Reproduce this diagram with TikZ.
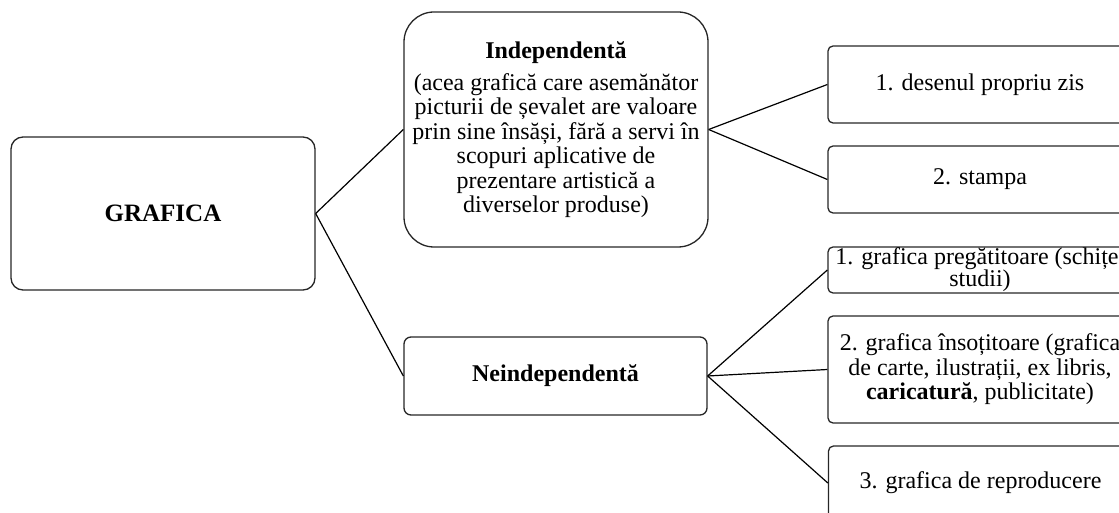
\documentclass[tikz,border=0pt]{standalone}
\usepackage{fontspec}
\setmainfont{Liberation Serif}
\begin{document}
\lineskiplimit=-20pt\relax
\begin{tikzpicture}[x=0.5pt,y=-0.5pt,
  box/.style={draw=black!85, line width=0.65pt, align=center, inner sep=0pt,
    font=\fontsize{12}{12.3}\selectfont},
  tight/.style={font=\fontsize{12}{11}\selectfont},
  conn/.style={draw=black, line width=0.6pt}]
\useasboundingbox (0,0) rectangle (1119,513);
\clip (0,0) rectangle (1119,513);
% left
\node[box, rounded corners=6pt, minimum width=152pt, minimum height=76.5pt] (g) at (163,213.5)
  {\fontsize{12.5}{15}\selectfont\bfseries GRAFICA};
% middle
\node[box, rounded corners=15pt, minimum width=152pt, minimum height=117.5pt,
  font=\fontsize{12}{12.25}\selectfont] (ind) at (556,129.5)
  {\textbf{Independentă}\\[3.75pt]
   (acea grafică care asemănător\\
   picturii de șevalet are valoare\\
   prin sine însăși, fără a servi în\\
   scopuri aplicative de\\
   prezentare artistică a\\
   diverselor produse)};
\node[box, rounded corners=3.5pt, minimum width=151.5pt, minimum height=39pt] (nei) at (555.5,376)
  {\textbf{Neindependentă}};
% right
\node[box, rounded corners=2.5pt, minimum width=152pt, minimum height=38.5pt] (b1) at (980,84.5)
  {1. desenul propriu zis};
\node[box, rounded corners=2.5pt, minimum width=152pt, minimum height=33.5pt] (b2) at (980,179.5)
  {2. stampa};
\node[box, tight, rounded corners=2.5pt, minimum width=152pt, minimum height=23pt] (b3) at (980,270)
  {1. grafica pregătitoare (schițe,\\studii)};
\node[box, rounded corners=2.5pt, minimum width=152pt, minimum height=53.5pt] (b4) at (980,369.5)
  {2. grafica însoțitoare (grafica\\de carte, ilustrații, ex libris,\\\textbf{caricatură}, publicitate)};
\node[box, rounded corners=2.5pt, minimum width=152pt, minimum height=37pt] (b5) at (980.5,483)
  {3. grafica de reproducere};
% connectors
\draw[conn] (g.east) -- (ind.west);
\draw[conn] (g.east) -- (nei.west);
\draw[conn] (ind.east) -- (b1.west);
\draw[conn] (ind.east) -- (b2.west);
\draw[conn] (nei.east) -- (b3.west);
\draw[conn] (nei.east) -- (b4.west);
\draw[conn] (nei.east) -- (b5.west);
\end{tikzpicture}
\end{document}
